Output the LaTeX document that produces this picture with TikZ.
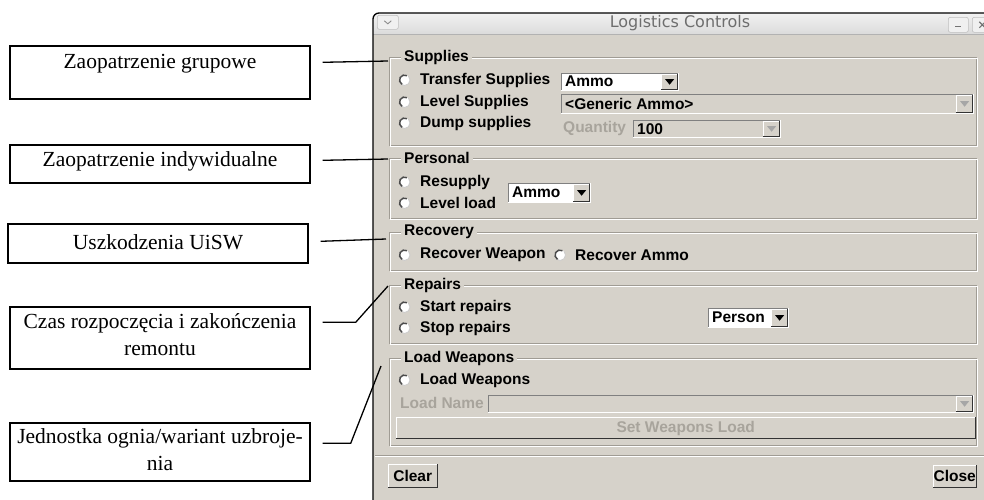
\documentclass[tikz,border=0pt]{standalone}
\usepackage{fontspec}
\setmainfont{Liberation Serif}
\newfontfamily\wf{Liberation Sans}
\newfontfamily\tff{DejaVu Sans}
\usetikzlibrary{calc}
\definecolor{winbg}{HTML}{D6D2CA}
\definecolor{etch}{HTML}{A09C94}
\definecolor{dis}{HTML}{A8A49C}
\definecolor{ttl}{HTML}{6E6E6E}
\newcommand\wfs{\wf\bfseries\fontsize{15.5}{18}\selectfont}
\newcommand\raisedE[1]{\draw[white,line width=1pt] (#1.south west) -- (#1.north west) -- (#1.north east);
  \draw[black!80,line width=1pt] (#1.north east) -- (#1.south east) -- (#1.south west);}
\newcommand\sunkE[1]{\draw[black!50,line width=1pt] (#1.south west) -- (#1.north west) -- (#1.north east);
  \draw[white,line width=1pt] (#1.north east) -- (#1.south east) -- (#1.south west);}
\newcommand\dtri[2]{\fill[#2] ($(#1.center)+(-4.5,-2.5)$) -- ($(#1.center)+(4.5,-2.5)$) -- ($(#1.center)+(0,3)$) -- cycle;}
\newcommand\combo[8]{%
  \node[field, fill=#6, minimum width=#4pt, minimum height=#5pt] (#1) at (#2,#3) {};
  \sunkE{#1}
  \node[field, fill=winbg, minimum width=16pt, minimum height={#5pt-2pt}] (#1b) at ($(#1.north east)+(-17,1)$) {};
  \raisedE{#1b}\dtri{#1b}{#7}
  \node[wtxt] at ($(#1.west)+(4,0)$) {#8};}
\newcommand\gframeE[1]{\draw[white,line width=0.9pt] ($(#1.north west)+(1,1)$) rectangle ($(#1.south east)+(1,1)$);}
\begin{document}
\begin{tikzpicture}[x=1pt,y=-1pt,
  lbox/.style={draw, line width=1.4pt, minimum width=300pt, inner sep=0pt},
  ltxt/.style={font=\fontsize{21.5}{27}\selectfont, align=center, inner sep=0pt},
  conn/.style={line width=1.3pt, line join=round},
  gframe/.style={draw=etch, line width=0.9pt, minimum width=587pt, anchor=north west, inner sep=0pt},
  gtitle/.style={font=\wfs, anchor=west, fill=winbg, inner xsep=3pt, inner ysep=1pt},
  wtxt/.style={font=\wfs, anchor=west, inner sep=0pt},
  dtxt/.style={font=\wfs, anchor=west, inner sep=0pt, text=dis},
  field/.style={anchor=north west, inner sep=0pt},
  tbtn/.style={anchor=north west, inner sep=0pt, fill=black!6, draw=black!25, rounded corners=2pt, line width=0.6pt},
  radio/.pic={
    \fill[white] (0,0) circle[radius=5.5pt];
    \draw[black!20, line width=0.8pt] (225:5.5pt) arc[start angle=225, end angle=405, radius=5.5pt];
    \draw[black!70, line width=1.5pt] (60:5pt) arc[start angle=60, end angle=240, radius=5pt];
  }]
\useasboundingbox (0,0) rectangle (984,499);
\fill[white] (0,0) rectangle (984,499);
% window
\fill[winbg] (373,505) [rounded corners=6pt] -- (373,13) -- (995,13) [sharp corners] -- (995,505) -- cycle;
\begin{scope}
  \clip (373,505) [rounded corners=6pt] -- (373,13) -- (995,13) [sharp corners] -- (995,505) -- cycle;
  \shade[top color=black!4, bottom color=black!14] (370,10) rectangle (995,34);
\end{scope}
\draw[black!30, line width=0.8pt] (373,34) -- (995,34);
\draw[line width=1.3pt] (373,505) [rounded corners=6pt] -- (373,13) -- (995,13);
\node[font=\tff\fontsize{16}{18}\selectfont, text=ttl] (title) at (680,23.5) {Logistics Controls};
\node[tbtn, minimum width=21pt, minimum height=14pt] (tb1) at (377,15) {};
\draw[black!45, line width=0.9pt] ($(tb1.center)+(-3.5,-1.5)$) -- ($(tb1.center)+(0,1.5)$) -- ($(tb1.center)+(3.5,-1.5)$);
\node[tbtn, minimum width=20pt, minimum height=15pt] (tb2) at (948,17) {};
\draw[black!55, line width=1.6pt] ($(tb2.center)+(-3,1.5)$) -- ($(tb2.center)+(3,1.5)$);
\node[tbtn, minimum width=20pt, minimum height=15pt] (tb3) at (972,17) {};
\draw[black!55, line width=1.2pt] ($(tb3.center)+(-3,-3)$) -- ($(tb3.center)+(3,3)$) ($(tb3.center)+(-3,3)$) -- ($(tb3.center)+(3,-3)$);
% group frames
\node[gframe, minimum height=88pt] (fsup) at (389,57) {}; \gframeE{fsup}
\node[gframe, minimum height=60pt] (fper) at (389,158) {}; \gframeE{fper}
\node[gframe, minimum height=38pt] (frec) at (389,232) {}; \gframeE{frec}
\node[gframe, minimum height=58pt] (frep) at (389,285) {}; \gframeE{frep}
\node[gframe, minimum height=87pt] (flw) at (389,358) {}; \gframeE{flw}
\node[gtitle] at (401,57) {Supplies};
\node[gtitle] at (401,158) {Personal};
\node[gtitle] at (401,232) {Recovery};
\node[gtitle] at (401,285) {Repairs};
\node[gtitle] at (401,358) {Load Weapons};
% supplies
\pic at (404.5,80) {radio}; \node[wtxt] at (420,80) {Transfer Supplies};
\pic at (404.5,102) {radio}; \node[wtxt] at (420,102) {Level Supplies};
\pic at (404.5,123) {radio}; \node[wtxt] at (420,123) {Dump supplies};
\combo{cba}{561}{73}{117}{17}{white}{black}{Ammo}
\combo{cbg}{561}{94}{412}{19}{winbg}{black!35}{<Generic Ammo>}
\node[dtxt] at (563,128) {Quantity};
\combo{cbq}{633}{120}{147}{17}{winbg}{black!35}{100}
% personal
\pic at (404.5,182) {radio}; \node[wtxt] at (420,182) {Resupply};
\pic at (404.5,203) {radio}; \node[wtxt] at (420,203) {Level load};
\combo{cbp}{508}{183}{82}{19}{white}{black}{Ammo}
% recovery
\pic at (404.5,255) {radio}; \node[wtxt] at (420,255) {Recover Weapon};
\pic at (560,255) {radio}; \node[wtxt] at (575,255) {Recover Ammo};
% repairs
\pic at (404.5,307) {radio}; \node[wtxt] at (420,307) {Start repairs};
\pic at (404.5,328) {radio}; \node[wtxt] at (420,328) {Stop repairs};
\combo{cbr}{708}{308}{80}{19}{white}{black}{Person}
% load weapons
\pic at (404.5,380) {radio}; \node[wtxt] at (420,380) {Load Weapons};
\node[dtxt] at (400,403) {Load Name};
\combo{cbl}{488}{395}{485}{17}{winbg}{black!35}{}
\node[field, fill=winbg, minimum width=579pt, minimum height=21pt] (swl) at (396,417) {};
\raisedE{swl}
\node[font=\wfs, text=dis, inner sep=0pt] at ($(swl.center)+(0,0.5)$) {Set Weapons Load};
% separator and buttons
\draw[etch, line width=0.9pt] (375,455) -- (990,455);
\draw[white, line width=0.9pt] (375,456) -- (990,456);
\node[field, fill=winbg, minimum width=49pt, minimum height=23pt] (clr) at (388,464) {};
\raisedE{clr}
\node[font=\wfs, inner sep=0pt] at (clr.center) {Clear};
\node[field, fill=winbg, minimum width=43pt, minimum height=22pt] (cls) at (933,465) {};
\raisedE{cls}
\node[font=\wfs, inner sep=0pt] at (cls.center) {Close};
% label boxes
\node[lbox, minimum height=53pt] (b1) at (160,72.5) {};
\node[ltxt] (t1) at (160,63.5) {Zaopatrzenie grupowe};
\node[lbox, minimum height=38pt] (b2) at (160,164) {};
\node[ltxt] (t2) at (160,161) {Zaopatrzenie indywidualne};
\node[lbox, minimum height=39pt] (b3) at (158,243.5) {};
\node[ltxt] (t3) at (158,242) {Uszkodzenia UiSW};
\node[lbox, minimum height=62pt] (b4) at (160,338) {};
\node[ltxt] (t4) at (160,335) {Czas rozpoczęcia i zakończenia\\remontu};
\node[lbox, minimum height=58pt] (b5) at (160,452) {};
\node[ltxt] (t5) at (160,449.5) {Jednostka ognia/wariant uzbroje-\\nia};
% connectors
\draw[conn] ($(b1.north east)+(12,17)$) -- ($(fsup.north west)+(-1,4)$);
\draw[conn] ($(b2.north east)+(12,16)$) -- ($(fper.north west)+(-1,1)$);
\draw[conn] ($(b3.north east)+(12,18)$) -- ($(frec.north west)+(-3,7)$);
\draw[conn] ($(b4.north east)+(12,16)$) -- ($(b4.north east)+(45,16)$) -- ($(frep.north west)+(-1,1)$);
\draw[conn] ($(b5.north east)+(12,21)$) -- ($(b5.north east)+(40,21)$) -- ($(flw.north west)+(-8,8)$);
\end{tikzpicture}
\end{document}
